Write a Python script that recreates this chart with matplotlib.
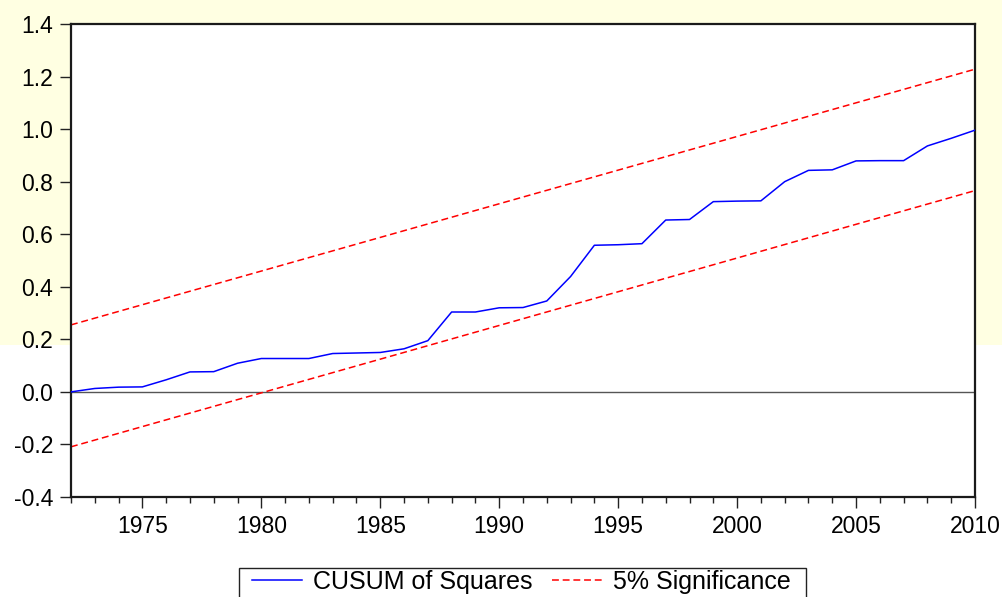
import matplotlib
matplotlib.use("Agg")
import matplotlib.pyplot as plt
from matplotlib.ticker import MultipleLocator
from matplotlib.patches import Rectangle

# ---- data ----
years = list(range(1972, 2011))
cusum_sq = [0.000, 0.013, 0.018, 0.019, 0.046, 0.076, 0.077, 0.109, 0.127, 0.127,
            0.127, 0.146, 0.148, 0.150, 0.164, 0.195, 0.304, 0.304, 0.320, 0.321,
            0.346, 0.439, 0.558, 0.560, 0.564, 0.654, 0.656, 0.724, 0.726, 0.727,
            0.800, 0.843, 0.845, 0.879, 0.880, 0.880, 0.936, 0.965, 0.996]
band_years = [1972, 2010]
upper_band = [0.255, 1.228]
lower_band = [-0.209, 0.766]
xticks = [1975, 1980, 1985, 1990, 1995, 2000, 2005, 2010]
yticks = [-0.4, -0.2, 0.0, 0.2, 0.4, 0.6, 0.8, 1.0, 1.2, 1.4]
labels = ["CUSUM of Squares", "5% Significance"]

plt.rcParams['font.family'] = ['Liberation Sans', 'DejaVu Sans']

W, H = 1003, 597
fig = plt.figure(figsize=(W/100, H/100), dpi=100)

# pale background tint in the upper part of the page
fig.patches.append(Rectangle((0, 1 - 345/H), 1, 345/H, transform=fig.transFigure,
                             facecolor='#FFFFE2', edgecolor='none', zorder=-5))

ax = fig.add_axes([71/W, 1 - 497/H, (975 - 71)/W, (497 - 24)/H])
ax.set_zorder(1)
ax.set_facecolor('white')

ax.axhline(0.0, color='#555555', lw=1.0, zorder=1)
l1, = ax.plot(years, cusum_sq, color='#0000FF', lw=1.1, zorder=3)
l2, = ax.plot(band_years, upper_band, color='#FF0000', lw=1.1,
              linestyle=(0, (4.5, 2.5)), zorder=2)
ax.plot(band_years, lower_band, color='#FF0000', lw=1.1,
        linestyle=(0, (4.5, 2.5)), zorder=2)

ax.set_xlim(1972, 2010)
ax.set_ylim(-0.4, 1.4)
ax.set_xticks(xticks)
ax.xaxis.set_minor_locator(MultipleLocator(1))
ax.set_yticks(yticks)
ax.set_yticklabels([f"{v:.1f}" for v in yticks])

ax.tick_params(axis='x', which='major', direction='out', length=8, width=1.0,
               labelsize=16.5, pad=5, color='#222222')
ax.tick_params(axis='x', which='minor', direction='out', length=4, width=1.0,
               color='#222222')
ax.tick_params(axis='y', which='major', direction='out', length=8, width=1.0,
               labelsize=16.5, pad=5, color='#222222')

for sp in ax.spines.values():
    sp.set_linewidth(1.6)
    sp.set_color('#1a1a1a')

# legend frame (extends past the bottom edge, as in the original)
fig.patches.append(Rectangle((239/W, -0.05), (806 - 239)/W, 0.05 + 1 - 568/H,
                             transform=fig.transFigure, facecolor='white',
                             edgecolor='#222222', lw=1.0, zorder=5))

leg = fig.legend([l1, l2], labels, loc='upper left',
                 bbox_to_anchor=(252/W, 1 - 570/H), ncol=2,
                 fontsize=18, frameon=False,
                 handlelength=2.0, handletextpad=0.45, columnspacing=0.75,
                 borderpad=0.0, borderaxespad=0)
leg.set_zorder(6)

fig.savefig("out.png", dpi=100, facecolor='white')
